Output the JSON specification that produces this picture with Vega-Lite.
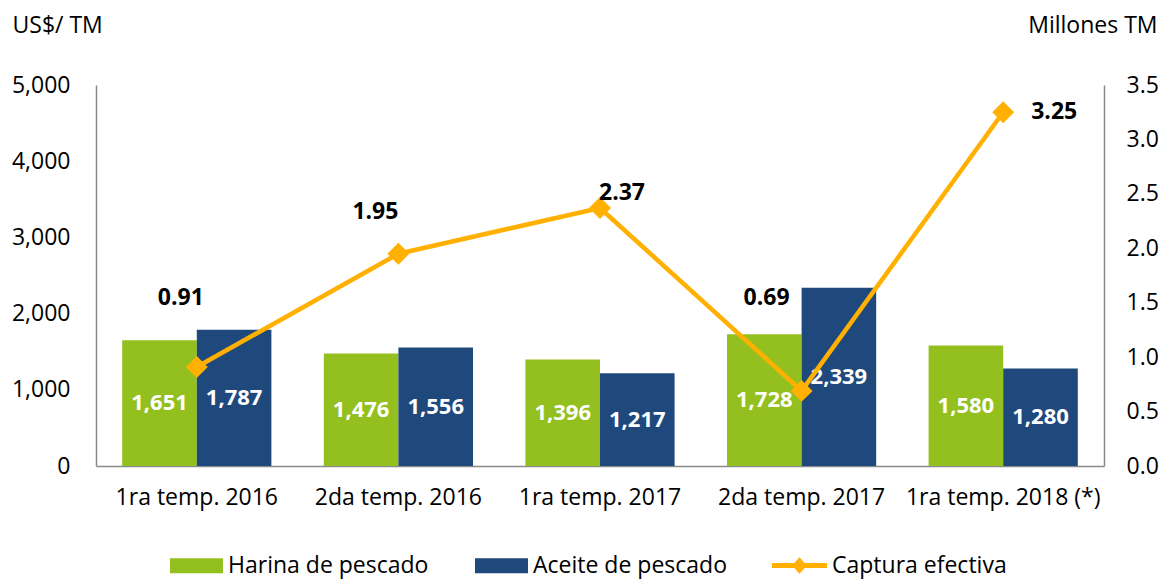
{
  "$schema": "https://vega.github.io/schema/vega-lite/v6.json",
  "width": 1008,
  "height": 381,
  "autosize": {"type": "none"},
  "padding": {"left": 96, "top": 85, "right": 70, "bottom": 115},
  "background": "white",
  "config": {
    "font": "Open Sans",
    "view": {"stroke": null},
    "axis": {"grid": false, "ticks": false, "labelOverlap": false, "labelLimit": 400, "labelFontSize": 23, "labelColor": "#000000", "domainColor": "#8a8a8a", "domainWidth": 1.5, "titleFontSize": 23, "titleFontWeight": "normal", "titleColor": "#000000"},
    "legend": {"labelFontSize": 23, "labelColor": "#000000", "labelLimit": 0}
  },
  "datasets": {
    "precios": [
      {"temp": "1ra temp. 2016", "serie": "Harina de pescado", "valor": 1651},
      {"temp": "1ra temp. 2016", "serie": "Aceite de pescado", "valor": 1787},
      {"temp": "2da temp. 2016", "serie": "Harina de pescado", "valor": 1476},
      {"temp": "2da temp. 2016", "serie": "Aceite de pescado", "valor": 1556},
      {"temp": "1ra temp. 2017", "serie": "Harina de pescado", "valor": 1396},
      {"temp": "1ra temp. 2017", "serie": "Aceite de pescado", "valor": 1217},
      {"temp": "2da temp. 2017", "serie": "Harina de pescado", "valor": 1728},
      {"temp": "2da temp. 2017", "serie": "Aceite de pescado", "valor": 2339},
      {"temp": "1ra temp. 2018 (*)", "serie": "Harina de pescado", "valor": 1580},
      {"temp": "1ra temp. 2018 (*)", "serie": "Aceite de pescado", "valor": 1280}
    ],
    "captura": [
      {"temp": "1ra temp. 2016", "captura": 0.91},
      {"temp": "2da temp. 2016", "captura": 1.95},
      {"temp": "1ra temp. 2017", "captura": 2.37},
      {"temp": "2da temp. 2017", "captura": 0.69},
      {"temp": "1ra temp. 2018 (*)", "captura": 3.25}
    ]
  },
  "layer": [
    {
      "data": {"name": "precios"},
      "encoding": {
        "x": {"field": "temp", "type": "nominal", "sort": ["1ra temp. 2016", "2da temp. 2016", "1ra temp. 2017", "2da temp. 2017", "1ra temp. 2018 (*)"], "scale": {"paddingInner": 0.26, "paddingOuter": 0.13}, "axis": {"title": null, "labelAngle": 0, "labelPadding": 20}},
        "xOffset": {"field": "serie", "type": "nominal", "sort": ["Harina de pescado", "Aceite de pescado"], "scale": {"paddingInner": 0, "paddingOuter": 0}}
      },
      "layer": [
        {
          "mark": {"type": "bar"},
          "encoding": {
            "y": {"field": "valor", "type": "quantitative", "scale": {"domain": [0, 5000]}, "axis": {"title": "US$/ TM", "format": ",.0f", "values": [0, 1000, 2000, 3000, 4000, 5000], "labelPadding": 26, "titleAngle": 0, "titleX": -84, "titleY": -60, "titleAlign": "left", "titleBaseline": "middle"}},
            "fill": {"field": "serie", "type": "nominal", "sort": ["Harina de pescado", "Aceite de pescado"], "scale": {"domain": ["Harina de pescado", "Aceite de pescado"], "range": ["#93C01F", "#1F497D"]}, "legend": {"title": null, "orient": "none", "legendX": 74, "legendY": 454, "direction": "horizontal", "symbolType": "M-1,-0.283H1V0.283H-1Z", "symbolSize": 2809, "symbolStrokeWidth": 0, "labelOffset": 5, "columnPadding": 46}}
          }
        },
        {
          "mark": {"type": "text", "color": "white", "fontWeight": "bold", "fontSize": 22, "baseline": "middle"},
          "encoding": {
            "y": {"field": "valor", "type": "quantitative", "scale": {"domain": [0, 10000]}, "axis": null},
            "text": {"field": "valor", "type": "quantitative", "format": ",.0f"}
          }
        }
      ],
      "resolve": {"scale": {"y": "independent"}}
    },
    {
      "data": {"name": "captura"},
      "encoding": {
        "x": {"field": "temp", "type": "nominal", "sort": ["1ra temp. 2016", "2da temp. 2016", "1ra temp. 2017", "2da temp. 2017", "1ra temp. 2018 (*)"]},
        "y": {"field": "captura", "type": "quantitative", "scale": {"domain": [0, 3.5]}, "axis": {"orient": "right", "title": "Millones TM", "format": ".1f", "values": [0, 0.5, 1, 1.5, 2, 2.5, 3, 3.5], "labelPadding": 22, "titleAngle": 0, "titleX": 53, "titleY": -60, "titleAlign": "right", "titleBaseline": "middle"}}
      },
      "layer": [
        {"mark": {"type": "line", "color": "#FFB000", "strokeWidth": 4.5}},
        {
          "mark": {"type": "point", "shape": "diamond", "filled": true, "size": 480, "opacity": 1},
          "encoding": {
            "color": {"datum": "Captura efectiva", "scale": {"range": ["#FFB000"]}, "legend": {"title": null, "orient": "none", "legendX": 676, "legendY": 453, "symbolType": "M-1,-0.09H1V0.09H-1Z M-0.27,0L0,-0.3L0.27,0L0,0.3Z", "symbolSize": 3025, "symbolStrokeWidth": 0, "symbolOpacity": 1, "labelOffset": 5}}
          }
        },
        {"transform": [{"filter": "datum.temp == '1ra temp. 2016'"}], "mark": {"type": "text", "fontWeight": "bold", "fontSize": 23, "color": "#000000", "dx": -16, "dy": -69}, "encoding": {"text": {"field": "captura", "type": "quantitative", "format": ".2f"}}},
        {"transform": [{"filter": "datum.temp == '2da temp. 2016'"}], "mark": {"type": "text", "fontWeight": "bold", "fontSize": 23, "color": "#000000", "dx": -23, "dy": -42}, "encoding": {"text": {"field": "captura", "type": "quantitative", "format": ".2f"}}},
        {"transform": [{"filter": "datum.temp == '1ra temp. 2017'"}], "mark": {"type": "text", "fontWeight": "bold", "fontSize": 23, "color": "#000000", "dx": 22, "dy": -15}, "encoding": {"text": {"field": "captura", "type": "quantitative", "format": ".2f"}}},
        {"transform": [{"filter": "datum.temp == '2da temp. 2017'"}], "mark": {"type": "text", "fontWeight": "bold", "fontSize": 23, "color": "#000000", "dx": -35, "dy": -93}, "encoding": {"text": {"field": "captura", "type": "quantitative", "format": ".2f"}}},
        {"transform": [{"filter": "datum.temp == '1ra temp. 2018 (*)'"}], "mark": {"type": "text", "fontWeight": "bold", "fontSize": 23, "color": "#000000", "dx": 51, "dy": 0}, "encoding": {"text": {"field": "captura", "type": "quantitative", "format": ".2f"}}}
      ]
    }
  ],
  "resolve": {"scale": {"y": "independent"}}
}
